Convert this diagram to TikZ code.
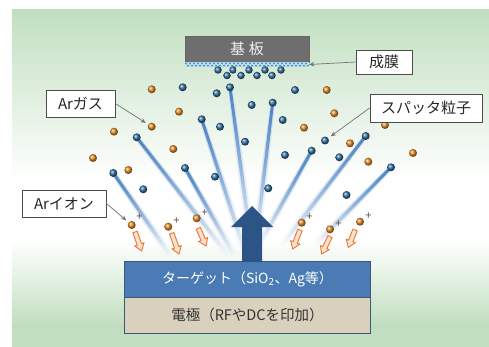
\documentclass[tikz,border=0pt]{standalone}
\usepackage{fontspec}
\newfontfamily\jp{Noto Sans CJK JP}
\usetikzlibrary{calc,arrows.meta,fadings}

\definecolor{bggreen}{HTML}{C1DFC0}
\definecolor{partblue}{HTML}{2F6C9C}
\definecolor{partorange}{HTML}{E38A1E}
\definecolor{trailblue}{HTML}{4A82C4}
\definecolor{targetblue}{HTML}{4A7BB4}
\definecolor{electrode}{HTML}{D9D0BE}
\definecolor{boxedge}{HTML}{3A5879}
\definecolor{arrowblue}{HTML}{2D5486}
\definecolor{ionorange}{HTML}{EC7432}
\definecolor{ionfill}{HTML}{FCE2CC}
\definecolor{substrate}{HTML}{6E6E6E}
\definecolor{filmblue}{HTML}{B4DBEE}
\definecolor{filmdot}{HTML}{3C7FB0}
\definecolor{plusgray}{HTML}{5A4848}

\tikzfading[name=trailfade, left color=transparent!0, middle color=transparent!30, right color=transparent!100]

% motion streak behind a sputtered particle: from (#1,#2) fading out towards (#3,#4)
\newcommand\streak[4]{%
  \pgfmathsetmacro\stkang{atan2(-(#4-#2),#3-#1)}%
  \pgfmathsetmacro\stklen{veclen(#3-#1,#4-#2)}%
  \begin{scope}[transform canvas={shift={(#1,#2)},rotate=\stkang}]
    \fill[trailblue!30, path fading=trailfade] (0,-2.2) -- (\stklen,-4.5) -- (\stklen,4.5) -- (0,2.2) -- cycle;
    \fill[trailblue, path fading=trailfade] (0,-1.4) -- (\stklen,-2) -- (\stklen,2) -- (0,1.4) -- cycle;
  \end{scope}}

% hollow arrow showing an ion falling onto the target
\newcommand\ionarrow[4]{%
  \pgfmathsetmacro\iaang{atan2(-(#4-#2),#3-#1)}%
  \pgfmathsetmacro\ialen{veclen(#3-#1,#4-#2)}%
  \begin{scope}[shift={(#1,#2)},rotate=\iaang]
    \filldraw[draw=ionorange, fill=ionfill, line width=0.9pt, line join=miter]
      (0,-2.3) -- (\ialen-7,-2.3) -- (\ialen-7,-4.8) -- (\ialen,0)
      -- (\ialen-7,4.8) -- (\ialen-7,2.3) -- (0,2.3) -- cycle;
  \end{scope}}

\begin{document}
\begin{tikzpicture}[x=1pt, y=-1pt, font=\jp,
  gas/.style={circle, inner sep=0pt, minimum size=8pt, ball color=partorange},
  sput/.style={circle, inner sep=0pt, minimum size=8pt, ball color=partblue},
  tag/.style={draw=black!70, fill=white, line width=0.8pt, inner sep=0pt,
    font=\jp\fontsize{15}{18}\selectfont, text=black!85},
  callout/.style={draw=black!55, line width=0.7pt,
    -{Stealth[length=5pt,width=4.5pt]}, shorten >=3pt},
  charge/.style={inner sep=0pt, font=\jp\fontsize{11}{11}\selectfont, text=plusgray}]

\useasboundingbox (0,0) rectangle (489,347);
\fill[white] (0,0) rectangle (489,347);

% background panel: green at top and bottom, pale in the middle
\shade[top color=bggreen, bottom color=white] (12,10) rectangle (489,181);
\fill[white] (12,180) rectangle (489,241);
\shade[top color=white, bottom color=bggreen] (12,240) rectangle (489,325);
\fill[bggreen] (12,324) rectangle (489,347);

% streaks of sputtered particles
\streak{113.3}{173}{170}{255}
\streak{136.7}{137.3}{228}{255}
\streak{185}{168}{234}{255}
\streak{201.7}{119.3}{246}{255}
\streak{230}{87.3}{252}{250}
\streak{272.7}{102.7}{255}{250}
\streak{311.7}{150.7}{259}{245}
\streak{365.7}{136}{282}{245}
\streak{391}{167.3}{315}{245}

% sputtered particles at the head of each streak
\node[sput] (s1) at (113.3,173) {};
\node[sput] (s2) at (136.7,137.3) {};
\node[sput] (s3) at (185,168) {};
\node[sput] (s4) at (201.7,119.3) {};
\node[sput] (s5) at (230,87.3) {};
\node[sput] (s6) at (272.7,102.7) {};
\node[sput] (s7) at (311.7,150.7) {};
\node[sput] (s8) at (365.7,136) {};
\node[sput] (s9) at (391,167.3) {};

% free sputtered particles
\node[sput] (b1) at (182.7,87.3) {};
\node[sput] (b2) at (216.7,93.3) {};
\node[sput] (b3) at (251.7,105) {};
\node[sput] (b4) at (220,126.7) {};
\node[sput] (b5) at (245,141.7) {};
\node[sput] (b6) at (215,176.7) {};
\node[sput] (b7) at (143.3,189.3) {};
\node[sput] (b8) at (268.3,188.3) {};
\node[sput] (b9) at (282.7,120) {};
\node[sput] (b10) at (295,90) {};
\node[sput] (b11) at (285,155) {};
\node[sput] (b12) at (325,140.5) {};
\node[sput] (b13) at (339.3,157.3) {};
\node[sput] (b14) at (346.5,195) {};

% Ar gas atoms
\node[gas] (g1) at (151.7,89.3) {};
\node[gas] (g2) at (179,111.7) {};
\node[gas] (g3) at (151.7,126.7) {};
\node[gas] (g4) at (114,131.7) {};
\node[gas] (g5) at (173.3,149) {};
\node[gas] (g6) at (93,158) {};
\node[gas] (g7) at (128.3,170) {};
\node[gas] (g8) at (326.7,90) {};
\node[gas] (g9) at (334.3,113.3) {};
\node[gas] (g10) at (304,127.7) {};
\node[gas] (g11) at (350,143.3) {};
\node[gas] (g12) at (385,125) {};
\node[gas] (g13) at (368.3,161.7) {};
\node[gas] (g14) at (413,153) {};

% Ar ions with their charge and direction of travel
\node[gas] (i1) at (131.7,225) {};
\node[gas] (i2) at (168.3,226.7) {};
\node[gas] (i3) at (196.7,218.3) {};
\node[gas] (i4) at (301.7,222.7) {};
\node[gas] (i5) at (330,229.3) {};
\node[gas] (i6) at (360,221.7) {};
\node[charge] (c1) at (139.5,217) {+};
\node[charge] (c2) at (176.5,221) {+};
\node[charge] (c3) at (204.5,213) {+};
\node[charge] (c4) at (309.5,217) {+};
\node[charge] (c5) at (338.5,224) {+};
\node[charge] (c6) at (368.5,216) {+};
\ionarrow{135}{232}{141.7}{251}
\ionarrow{171.7}{233.3}{179}{254}
\ionarrow{198.3}{228.3}{206}{246}
\ionarrow{300}{230}{292.7}{249}
\ionarrow{330}{236.7}{321.7}{254}
\ionarrow{355}{230}{348.3}{247.5}

% target and electrode
\node[fill=targetblue, minimum width=245pt, minimum height=35pt, inner sep=0pt,
  text=white, font=\jp\fontsize{14}{16}\selectfont] (target) at (247.5,279.5)
  {ターゲット（SiO\textsubscript{2}、Ag等）};
\node[fill=electrode, minimum width=245pt, minimum height=36pt, inner sep=0pt,
  text=black!80, font=\jp\fontsize{14.5}{16}\selectfont] (electrode) at (247.5,315)
  {電極（RFやDCを印加）};
\draw[boxedge, line width=0.8pt] (target.south west) -- (target.south east);
\draw[boxedge, line width=1.3pt] (target.north west) rectangle (electrode.south east);

% ejection arrow rising from the target
\fill[arrowblue] (242,262) -- (242,227) -- (231,227) -- (252,206) -- (273,227)
  -- (262,227) -- (262,262) -- cycle;

% substrate with the deposited film
\node[draw=black!60, fill=substrate, minimum width=124pt, minimum height=26pt,
  inner sep=0pt, text=white!94!black, font=\jp\fontsize{15}{18}\selectfont]
  (substrate) at (247,49) {基\hspace{4pt}板};
\node[fill=filmblue, minimum width=124pt, minimum height=5pt, inner sep=0pt]
  (film) at (247,64.5) {};
\foreach \x in {186,190,...,306} {
  \fill[filmdot] (\x,63.3) circle (0.9);
  \fill[filmdot] (\x+2,65.7) circle (0.9);
}
\foreach \x in {218,233,249,265,281} \node[sput, minimum size=7.5pt] at (\x,70) {};
\foreach \x in {227,241,257,272} \node[sput, minimum size=7.5pt] at (\x,75.5) {};

% labels
\node[tag, minimum width=69pt, minimum height=27pt] (lblGas) at (80.5,103.5) {Arガス};
\node[tag, minimum width=112pt, minimum height=28pt] (lblSput) at (426,108) {スパッタ粒子};
\node[tag, minimum width=84pt, minimum height=27pt] (lblIon) at (64,203.5) {Arイオン};
\node[tag, minimum width=56pt, minimum height=24pt] (lblFilm) at (384,62) {成膜};

\draw[callout] (lblGas.east) -- (g3);
\draw[callout] (lblSput.west) -- (b12);
\draw[callout] (lblIon.east) -- (i1);
\draw[callout, shorten >=0pt] (lblFilm.west) -- (film.east);

\end{tikzpicture}
\end{document}
